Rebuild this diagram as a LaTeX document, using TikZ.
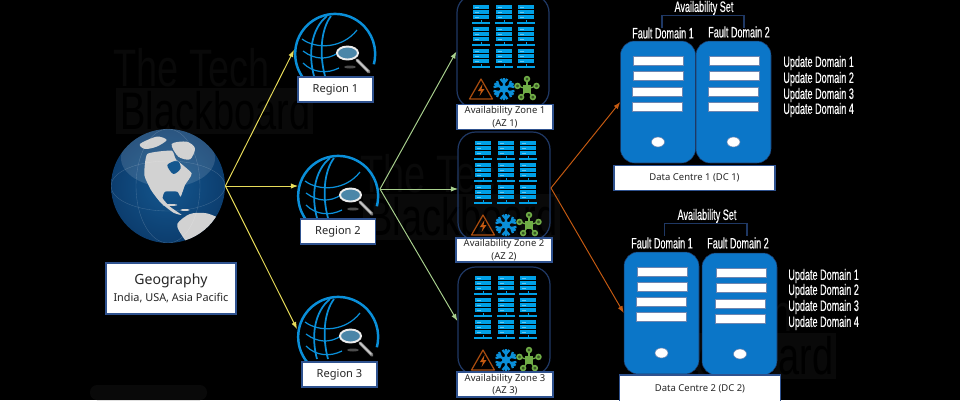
\documentclass[tikz,border=0pt]{standalone}
\usepackage{fontspec}
\setmainfont{Noto Sans}
\newfontfamily\narrowfont[FakeStretch=0.6,FakeBold=0.25]{Liberation Sans}
\newfontfamily\wmfont[FakeStretch=0.72]{Liberation Sans}
\usetikzlibrary{arrows.meta,shapes.geometric}
\definecolor{navy}{HTML}{2F528F}
\definecolor{darknavy}{HTML}{1F3864}
\definecolor{arcblue}{HTML}{0A8FD9}
\definecolor{rackblue}{HTML}{00A0E6}
\definecolor{srvblue}{HTML}{0B76C8}
\definecolor{geoyellow}{HTML}{E8DC5A}
\definecolor{azgreen}{HTML}{A9D18E}
\definecolor{netgreen}{HTML}{70AD47}
\definecolor{dcorange}{HTML}{C55A11}
\definecolor{wmgrey}{HTML}{090909}
\definecolor{seablue}{HTML}{14578F}
\definecolor{seadark}{HTML}{0C3D6E}
\definecolor{landgrey}{HTML}{D2D2D2}
\tikzset{
  whitebox/.style={draw=navy,fill=white,line width=0.7pt,inner sep=0pt,align=center,text=black!85},
  azbox/.style={draw=darknavy,line width=0.7pt,rounded corners=10pt,inner sep=0pt,minimum width=1.84cm},
  srvbox/.style={draw=darknavy,fill=srvblue,line width=0.3pt,rounded corners=8pt,inner sep=0pt,minimum width=1.5cm,minimum height=2.44cm},
  narrowtext/.style={text=white,inner sep=0pt,font=\narrowfont\fontsize{8.6}{10}\selectfont},
  dclabel/.style={whitebox,font=\fontsize{5.4}{6.5}\selectfont,minimum width=3.22cm,minimum height=0.5cm},
  azlabel/.style={whitebox,font=\fontsize{5.4}{7.2}\selectfont,minimum width=1.92cm,minimum height=0.5cm},
  reglabel/.style={whitebox,font=\fontsize{6.3}{7.5}\selectfont,minimum width=1.5cm,minimum height=0.5cm},
  geoarrow/.style={-{Latex[length=4pt,width=3pt]},draw=geoyellow,line width=0.55pt},
  azarrow/.style={-{Latex[length=4pt,width=3pt]},draw=azgreen,line width=0.55pt},
  dcarrow/.style={-{Latex[length=4pt,width=3pt]},draw=dcorange,line width=0.55pt},
  pics/regionglobe/.style={code={
    \draw[arcblue,line width=1.4pt] (-25,31) arc[start angle=129,end angle=375,radius=40];
    \draw[arcblue,line width=1pt] (-8,-38) .. controls (-24,-25) and (-27,0) .. (-21,22);
    \draw[arcblue,line width=1pt] (-4,-38) .. controls (-14,-25) and (-16,0) .. (-10,22);
    \draw[arcblue,line width=0.7pt] (-33,-15) .. controls (-18,-4) and (8,-6) .. (22,-24);
    \draw[arcblue,line width=0.7pt] (-32,-3) .. controls (-20,6) and (-8,6) .. (3,-1);
    \draw[arcblue,line width=0.7pt] (-32,9) .. controls (-22,19) and (-8,20) .. (4,14);
    \fill[black!70] (15,13) ellipse[x radius=6,y radius=1.5];
    \draw[black!55,line width=2pt,line cap=round] (22,6) -- (34,18);
    \draw[white!80!black,line width=0.9pt,line cap=round] (22,6) -- (33,17);
    \draw[white!85!gray,fill=arcblue!45!gray,line width=1.1pt] (12.5,-1) ellipse[x radius=10.5,y radius=6.5];
  }},
  pics/rackunit/.style={code={
    \foreach \u in {0,5,10} {
      \fill[rackblue] (0,\u) rectangle (16,\u+4.1);
      \fill[white!40!rackblue] (2,\u+1.5) rectangle (6,\u+2.3);
    }
    \draw[rackblue,line width=0.5pt] (8,15) -- (8,18);
    \draw[rackblue,line width=0.8pt] (-1,18) -- (17,18);
  }},
  pics/azicons/.style={code={
    \foreach \cx in {0,23,45}
      \foreach \ry in {0,22,44}
        \pic at (\cx,\ry) {rackunit};
    % warning sign
    \draw[dcorange!85!black,line width=0.7pt,line join=round] (8,74) -- (19.5,94) -- (-3.5,94) -- cycle;
    \fill[dcorange] (9.5,79) -- (5,86) -- (8,86) -- (6.5,91) -- (11.5,84) -- (8.5,84) -- cycle;
    % snowflake
    \begin{scope}[shift={(31,84)}]
      \foreach \a in {30,90,...,330}
        \draw[arcblue,line width=1.3pt,rotate=\a] (0,0) -- (11,0) (6,0) -- (10,3.5) (6,0) -- (10,-3.5);
      \fill[arcblue] (0,0) circle[radius=4];
    \end{scope}
    % network
    \begin{scope}[shift={(54,84)}]
      \foreach \a in {90,162,234,306,18} {
        \draw[netgreen,line width=0.7pt] (0,0) -- (\a:-10);
        \draw[netgreen,fill=netgreen!50!black,line width=0.9pt] (\a:-10) circle[radius=2.4];
      }
      \fill[netgreen] (-4,-4) rectangle (4,4);
    \end{scope}
  }},
  pics/wmark/.style={code={
    \fill[wmgrey] (3,44) rectangle (200,90);
    \node (-a) [anchor=west,inner sep=0pt,text=wmgrey,font=\wmfont\fontsize{30}{30}\selectfont] at (0,24) {The Tech};
    \node (-b) [anchor=west,inner sep=0pt,text=black,font=\wmfont\fontsize{30}{30}\selectfont] at (7,67) {Blackboard};
  }}
}
\begin{document}
\begin{tikzpicture}[x=0.02cm,y=-0.02cm]
  \useasboundingbox (0,0) rectangle (960,400);
  \fill[black] (0,0) rectangle (960,400);
  % watermarks
  \pic (wm1) at (113,44) {wmark};
  \pic (wm2) at (360,150) {wmark};
  \pic (wm3) at (636,289) {wmark};
  \fill[wmgrey,rounded corners=4pt] (90,385) rectangle (207,400);
  % globe
  \node (globe) [circle,minimum size=2.28cm,inner sep=0pt,inner color=seablue,outer color=seadark] at (168,186) {};
  \begin{scope}
    \clip (168,186) circle[radius=57];
    \fill[white,opacity=0.13] (168,158) ellipse[x radius=47,y radius=29];
    \begin{scope}[shift={(90,0)},scale=0.3333]
      \fill[landgrey] plot[smooth cycle,tension=0.3] coordinates {(172,462) (245,452) (258,478) (305,520) (285,555) (272,590) (262,575) (225,575) (218,595) (240,620) (275,645) (250,638) (212,608) (183,570) (163,525)};
      \fill[landgrey] plot[smooth cycle,tension=0.5] coordinates {(150,432) (200,410) (230,420) (200,440) (165,447)};
      \fill[landgrey] plot[smooth cycle,tension=0.5] coordinates {(245,432) (290,425) (315,445) (300,478) (265,470)};
      \fill[landgrey] plot[smooth cycle,tension=0.5] coordinates {(262,672) (300,642) (350,640) (392,662) (345,695) (300,730) (275,705)};
      \fill[seablue] plot[smooth cycle] coordinates {(232,495) (262,482) (272,505) (250,522)};
      \fill[landgrey] (240,615) ellipse[x radius=22,y radius=3];
      \fill[landgrey] (285,630) ellipse[x radius=14,y radius=3];
    \end{scope}
    \draw[white,line width=0.2pt,opacity=0.2] (168,186) ellipse[x radius=32,y radius=57] (168,186) ellipse[x radius=57,y radius=25];
  \end{scope}
  \node (geolabel) [whitebox,minimum width=2.6cm,minimum height=1.02cm] at (171,288.5) {{\fontsize{8}{9.5}\selectfont Geography}\\[-2.5pt]{\fontsize{6.2}{7.5}\selectfont India, USA, Asia Pacific}};
  % regions
  \pic at (335,54) {regionglobe};
  \pic at (338,196) {regionglobe};
  \pic at (338,337) {regionglobe};
  \node (region1) [reglabel] at (335.5,89.5) {Region 1};
  \node (region2) [reglabel] at (338,231.5) {Region 2};
  \node (region3) [reglabel] at (339.5,374.5) {Region 3};
  \coordinate (reg1in) at (294,50);
  \coordinate (reg2in) at (298,186);
  \coordinate (reg3in) at (297,329);
  \coordinate (reg2out) at (380,189);
  \draw[geoarrow] (globe.east) -- (reg1in);
  \draw[geoarrow] (globe.east) -- (reg2in);
  \draw[geoarrow] (globe.east) -- (reg3in);
  % availability zones
  \node (az1) [azbox,minimum height=2.26cm] at (503,51.5) {};
  \node (az2) [azbox,minimum height=2.16cm] at (504,186) {};
  \node (az3) [azbox,minimum height=2.16cm] at (504,321) {};
  \pic at (473,5) {azicons};
  \pic at (475,141) {azicons};
  \pic at (475,276) {azicons};
  \node (az1label) [azlabel] at (505,117) {Availability Zone 1\\(AZ 1)};
  \node (az2label) [azlabel,minimum height=0.48cm] at (504,250) {Availability Zone 2\\(AZ 2)};
  \node (az3label) [azlabel] at (505,384.5) {Availability Zone 3\\(AZ 3)};
  \coordinate (az2in) at (458,189);
  \coordinate (az2out) at (551,188);
  \draw[azarrow] (reg2out) -- (az1.west);
  \draw[azarrow] (reg2out) -- (az2in);
  \draw[azarrow] (reg2out) -- (az3.west);
  % data centre 1
  \node (srv1a) [srvbox] at (658,102) {};
  \node (srv1b) [srvbox] at (733.5,102) {};
  \foreach \bx/\by in {633/56,633/71,632/87,632/102,709/56,709/71,708/87,708/102}
    \draw[fill=white,draw=navy!70,line width=0.3pt] (\bx,\by) rectangle (\bx+50,\by+9.5);
  \foreach \ex in {658,733.5}
    \draw[fill=white,draw=navy!70,line width=0.3pt] (\ex,142) ellipse[x radius=6.5,y radius=5];
  \node (dc1) [dclabel] at (694.5,178) {Data Centre 1 (DC 1)};
  \node (set1) [narrowtext] at (704,8) {Availability Set};
  \node (fd11) [narrowtext] at (663,33) {Fault Domain 1};
  \node (fd12) [narrowtext] at (739,32) {Fault Domain 2};
  \draw[draw=darknavy,line width=0.7pt] (662,28) |- (set1.south) -| (744,28);
  \node (ud11) [narrowtext,anchor=west] at (783,63) {Update Domain 1};
  \node (ud12) [narrowtext,anchor=west] at (783,79) {Update Domain 2};
  \node (ud13) [narrowtext,anchor=west] at (783,95) {Update Domain 3};
  \node (ud14) [narrowtext,anchor=west] at (783,110) {Update Domain 4};
  % data centre 2
  \node (srv2a) [srvbox] at (661.5,313) {};
  \node (srv2b) [srvbox] at (739.5,314) {};
  \foreach \bx/\by in {637/267,637/282,636/297,636/312,716/268,716/283,715/299,715/314}
    \draw[fill=white,draw=navy!70,line width=0.3pt] (\bx,\by) rectangle (\bx+50,\by+9.5);
  \foreach \ex/\ey in {661.5/353,740/354}
    \draw[fill=white,draw=navy!70,line width=0.3pt] (\ex,\ey) ellipse[x radius=6.5,y radius=5];
  \node (dc2) [dclabel,minimum height=0.56cm] at (700,389) {Data Centre 2 (DC 2)};
  \node (set2) [narrowtext] at (707,216) {Availability Set};
  \node (fd21) [narrowtext] at (662,243) {Fault Domain 1};
  \node (fd22) [narrowtext] at (738,243) {Fault Domain 2};
  \draw[draw=darknavy,line width=0.7pt] (664.5,236) |- (set2.south) -| (747,236);
  \node (ud21) [narrowtext,anchor=west] at (788,276) {Update Domain 1};
  \node (ud22) [narrowtext,anchor=west] at (788,291) {Update Domain 2};
  \node (ud23) [narrowtext,anchor=west] at (788,307) {Update Domain 3};
  \node (ud24) [narrowtext,anchor=west] at (788,323) {Update Domain 4};
  \draw[dcarrow] (az2out) -- (srv1a.west);
  \draw[dcarrow] (az2out) -- (srv2a.west);
\end{tikzpicture}
\end{document}
